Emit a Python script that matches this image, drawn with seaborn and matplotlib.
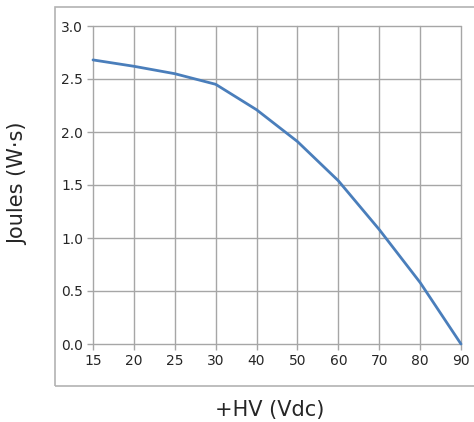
import matplotlib
matplotlib.use("Agg")
import matplotlib.pyplot as plt
import seaborn as sns
import pandas as pd
from matplotlib.patches import Rectangle

voltage = ["15", "20", "25", "30", "40", "50", "60", "70", "80", "90"]
joules = [2.68, 2.62, 2.55, 2.45, 2.21, 1.91, 1.54, 1.08, 0.58, 0.0]
y_ticks = [0.0, 0.5, 1.0, 1.5, 2.0, 2.5, 3.0]

df = pd.DataFrame({"hv": voltage, "joules": joules})

sns.set_style("white")
plt.rcParams["font.family"] = ["DejaVu Sans"]

fig = plt.figure(figsize=(4.74, 4.22), dpi=100)

# outer chart frame
fig.patches.append(Rectangle((55 / 474, 1 - 386 / 422), 1.0, (386 - 7) / 422,
                             transform=fig.transFigure, fill=False,
                             edgecolor="#b3b3b3", linewidth=1.2))

ax = fig.add_axes([93 / 474, 1 - 344 / 422, (461 - 93) / 474, (344 - 26) / 422])
sns.lineplot(data=df, x="hv", y="joules", sort=False, color="#4a7ebb",
             linewidth=2, ax=ax)
for ln in ax.lines:
    ln.set_clip_on(False)

ax.set_xlim(0, len(voltage) - 1)
ax.set_ylim(0, 3)
ax.set_yticks(y_ticks)
ax.set_yticklabels([f"{t:.1f}" for t in y_ticks])
ax.grid(True, color="#a6a6a6", linewidth=1)
for g in ax.get_xgridlines() + ax.get_ygridlines():
    g.set_clip_on(False)
ax.set_axisbelow(True)
for s in ax.spines.values():
    s.set_visible(False)
ax.tick_params(axis="both", length=4, width=1, color="#a6a6a6",
               labelsize=10, labelcolor="#262626", pad=3, left=True, bottom=True)
ax.set_xlabel("")
ax.set_ylabel("")

fig.text(18 / 474, 1 - 184 / 422, "Joules (W·s)", rotation=90, ha="center",
         va="center", fontsize=15, color="#262626")
fig.text(270 / 474, 1 - 410 / 422, "+HV (Vdc)", ha="center", va="center",
         fontsize=15, color="#262626")

fig.savefig("out.png", dpi=100)
